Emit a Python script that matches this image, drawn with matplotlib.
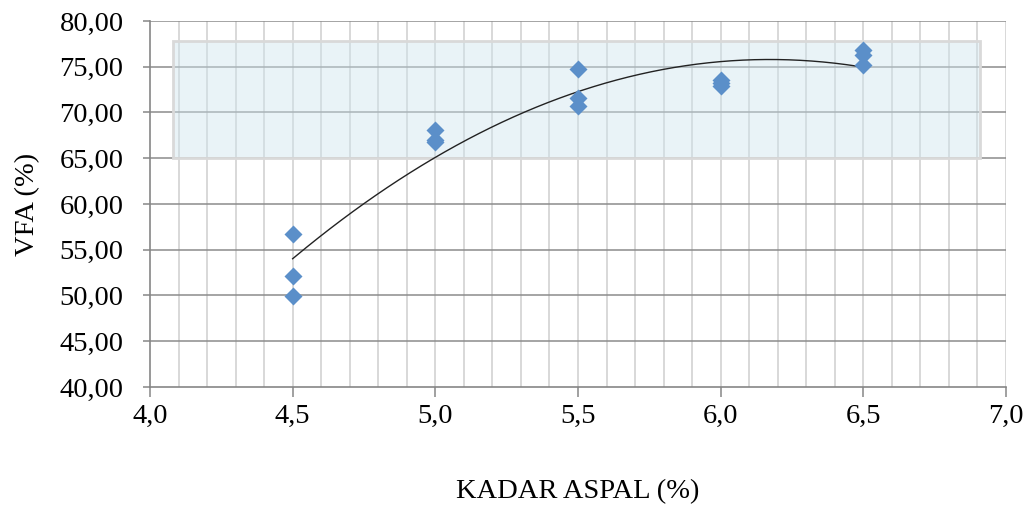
import numpy as np
import matplotlib
matplotlib.use('Agg')
import matplotlib.pyplot as plt
from matplotlib.patches import Rectangle
from matplotlib.ticker import FuncFormatter, MultipleLocator

plt.rcParams['font.family'] = ['Liberation Serif', 'DejaVu Serif']

# data (3 samples per asphalt content)
kadar_aspal = [4.5, 4.5, 4.5, 5.0, 5.0, 5.0, 5.5, 5.5, 5.5, 6.0, 6.0, 6.0, 6.5, 6.5, 6.5]
vfa = [56.7, 52.1, 49.9, 68.1, 67.0, 66.8, 74.8, 71.6, 70.7, 73.6, 73.2, 72.9, 76.8, 76.3, 75.2]
spec_x = [4.08, 6.91]   # shaded spec band
spec_y = [65.0, 77.8]

fig = plt.figure(figsize=(10.3, 5.08), dpi=100)
ax = fig.add_axes([0.1456, 0.2382, 0.8311, 0.7205])

ax.set_xlim(4.0, 7.0)
ax.set_ylim(40, 80)

# grid
for xv in np.arange(4.1, 7.05, 0.1):
    ax.axvline(xv, color='#d2d2d2', lw=1.2, zorder=0)
for yv in np.arange(45, 80.5, 5):
    ax.axhline(yv, color='#8c8c8c', lw=1.1, zorder=0)

ax.add_patch(Rectangle((spec_x[0], spec_y[0]), spec_x[1] - spec_x[0], spec_y[1] - spec_y[0],
                       facecolor='#cfe6ee', alpha=0.45, edgecolor='none', zorder=1))
ax.add_patch(Rectangle((spec_x[0], spec_y[0]), spec_x[1] - spec_x[0], spec_y[1] - spec_y[0],
                       facecolor='none', edgecolor='#d9d9d9', lw=2, zorder=1))

# polynomial trendline (order 2)
coef = np.polyfit(kadar_aspal, vfa, 2)
xs = np.linspace(min(kadar_aspal), max(kadar_aspal), 200)
ax.plot(xs, np.polyval(coef, xs), color='#222222', lw=1.0, zorder=3)

ax.plot(kadar_aspal, vfa, linestyle='none', marker='D', markersize=9.5,
        color='#5b8fc9', markeredgecolor='none', zorder=4)

ax.xaxis.set_major_locator(MultipleLocator(0.5))
ax.yaxis.set_major_locator(MultipleLocator(5))
ax.xaxis.set_major_formatter(FuncFormatter(lambda v, p: f'{v:.1f}'.replace('.', ',')))
ax.yaxis.set_major_formatter(FuncFormatter(lambda v, p: f'{v:.2f}'.replace('.', ',')))

for s in ['top', 'right']:
    ax.spines[s].set_visible(False)
for s in ['left', 'bottom']:
    ax.spines[s].set_color('#868686')
    ax.spines[s].set_linewidth(1.2)

ax.tick_params(axis='y', length=5, width=1.1, color='#868686', pad=14, labelsize=20.5)
ax.tick_params(axis='x', length=7, width=1.1, color='#868686', pad=5, labelsize=20.5)

ax.set_ylabel('VFA (%)', fontsize=20.5, labelpad=14)
ax.set_xlabel('KADAR ASPAL (%)', fontsize=20.5, labelpad=36)

fig.savefig('out.png', dpi=100)
